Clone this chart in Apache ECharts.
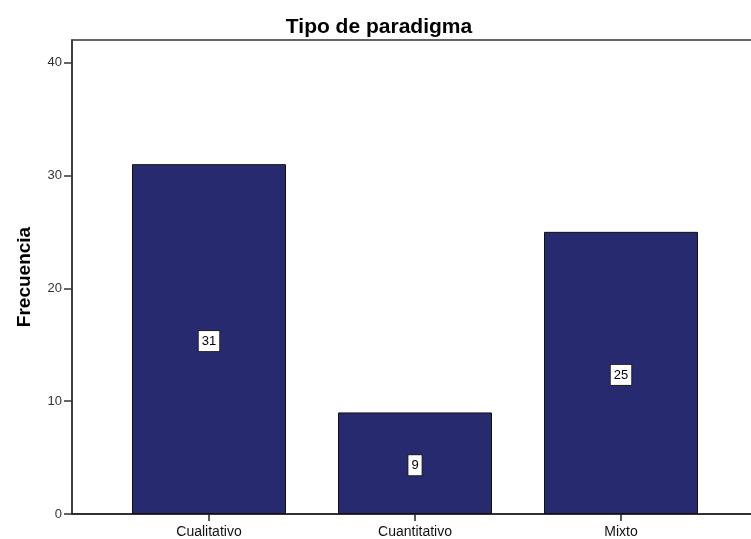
<!DOCTYPE html>
<html>
<head>
<meta charset="utf-8">
<script src="https://cdn.jsdelivr.net/npm/echarts@6/dist/echarts.min.js"></script>
<style>html,body{margin:0;padding:0;background:#fff}#c{width:751px;height:539px}</style>
</head>
<body>
<div id="c"></div>
<script>
var titleText = 'Tipo de paradigma';
var yName = 'Frecuencia';
var categories = ['Cualitativo', 'Cuantitativo', 'Mixto'];
var frecuencia = [31, 9, 25];
var yTicks = [0, 10, 20, 30, 40];
var catPositions = categories.map(function (c, i) { return i; });

var FONT = '"Liberation Sans", Arial, sans-serif';
var chart = echarts.init(document.getElementById('c'), null, {renderer: 'canvas'});
chart.setOption({
  animation: false,
  backgroundColor: '#ffffff',
  title: {
    text: titleText,
    left: 374, textAlign: 'center', top: 12,
    textStyle: {fontFamily: FONT, fontSize: 21, fontWeight: 'bold', color: '#000'}
  },
  grid: {
    left: 72, top: 40, width: 686, height: 474,
    outerBoundsMode: 'none', containLabel: false,
    show: true, borderColor: '#333', borderWidth: 1.5, backgroundColor: 'transparent'
  },
  xAxis: {
    type: 'value',
    min: -0.665, max: 2.665,
    splitLine: {show: false},
    axisLine: {show: true, onZero: false, lineStyle: {color: '#222', width: 1.5}},
    axisTick: {show: true, length: 7, lineStyle: {color: '#222', width: 1.5}, customValues: catPositions},
    axisLabel: {
      customValues: catPositions,
      fontFamily: FONT, fontSize: 14, color: '#111', margin: 11,
      formatter: function (v) { return categories[Math.round(v)]; }
    }
  },
  yAxis: {
    type: 'value',
    min: 0, max: 42,
    name: yName, nameLocation: 'middle', nameGap: 38,
    nameTextStyle: {fontFamily: FONT, fontSize: 19, fontWeight: 'bold', color: '#000'},
    splitLine: {show: false},
    axisLine: {show: true, onZero: false, lineStyle: {color: '#333', width: 1.5}},
    axisTick: {show: true, length: 8, lineStyle: {color: '#333', width: 1.5}, customValues: yTicks},
    axisLabel: {customValues: yTicks, fontFamily: FONT, fontSize: 13, color: '#333', margin: 10}
  },
  series: [{
    type: 'bar',
    data: frecuencia.map(function (v, i) { return [catPositions[i], v]; }),
    barWidth: 154,
    itemStyle: {color: '#272a6f', borderColor: '#111', borderWidth: 1},
    label: {
      show: true, position: 'inside', offset: [0, 2],
      formatter: function (p) { return p.value[1]; },
      fontFamily: FONT, fontSize: 13, color: '#000',
      backgroundColor: '#fff', borderColor: '#222', borderWidth: 1,
      padding: [4, 3, 3, 3]
    }
  }]
});
</script>
</body>
</html>
